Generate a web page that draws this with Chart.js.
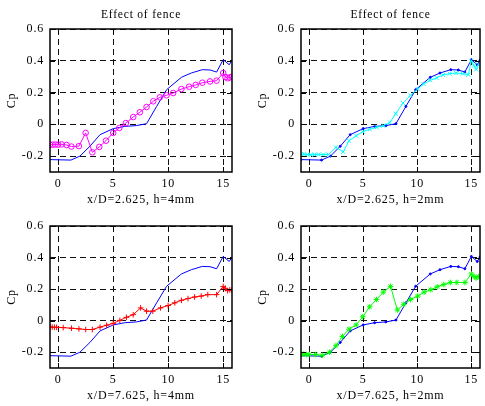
<!DOCTYPE html>
<html>
<head>
<meta charset="utf-8">
<script src="https://cdn.jsdelivr.net/npm/chart.js@4"></script>
<style>
  html, body { margin: 0; padding: 0; background: #fff; }
  #wrap { position: relative; width: 485px; height: 406px; overflow: hidden; }
  #wrap canvas { position: absolute; }
</style>
</head>
<body>
<div id="wrap">
  <canvas id="tl" width="242" height="210" style="left:0;top:0"></canvas>
  <canvas id="tr" width="234" height="210" style="left:251px;top:0"></canvas>
  <canvas id="bl" width="242" height="203" style="left:0;top:203px"></canvas>
  <canvas id="br" width="234" height="203" style="left:251px;top:203px"></canvas>
</div>
<script>
// ─── data ────────────────────────────────────────────────────────────────
const X_TICKS = [0, 5, 10, 15];
const Y_TICKS = [-0.2, 0, 0.2, 0.4, 0.6];

// baseline (no fence), blue line in every panel
const BASE_X = [-0.75, 1.15, 1.97, 2.88, 3.8, 5.0, 6.06, 7.1, 8.03, 8.95, 9.85, 11.2, 12.1, 13.1, 13.8, 14.4, 15.0, 15.55, 15.8];
const BASE_Y = [-0.222, -0.225, -0.2, -0.138, -0.065, -0.027, -0.013, -0.008, 0.004, 0.113, 0.218, 0.296, 0.323, 0.344, 0.342, 0.329, 0.407, 0.375, 0.403];

// x/D=2.625, h=4mm
const MAG_X = [-0.75, -0.5, -0.25, 0, 0.3, 0.76, 1.2, 1.88, 2.49, 3.1, 3.73, 4.34, 5.0, 5.55, 6.15, 6.82, 7.42, 8.03, 8.64, 9.24, 9.85, 10.45, 11.2, 11.9, 12.5, 13.1, 13.8, 14.4, 15.0, 15.2, 15.4, 15.6, 15.8];
const MAG_Y = [-0.128, -0.128, -0.127, -0.128, -0.126, -0.13, -0.14, -0.137, -0.054, -0.176, -0.142, -0.103, -0.054, -0.023, 0.008, 0.046, 0.076, 0.109, 0.145, 0.17, 0.183, 0.197, 0.222, 0.237, 0.248, 0.262, 0.27, 0.275, 0.323, 0.298, 0.29, 0.295, 0.3];

// x/D=2.625, h=2mm
const CYA_X = [-0.75, -0.45, -0.15, 0.15, 0.5, 0.9, 1.3, 1.8, 2.48, 3.15, 3.69, 4.35, 4.96, 5.6, 6.26, 6.86, 7.47, 8.01, 8.68, 9.37, 10.04, 10.58, 11.19, 11.79, 12.39, 13.0, 13.6, 14.2, 14.72, 15.0, 15.25, 15.45, 15.65];
const CYA_Y = [-0.19, -0.188, -0.19, -0.192, -0.19, -0.19, -0.19, -0.19, -0.145, -0.173, -0.103, -0.072, -0.046, -0.031, -0.019, -0.009, 0.012, 0.067, 0.134, 0.183, 0.222, 0.254, 0.277, 0.292, 0.311, 0.319, 0.323, 0.319, 0.312, 0.40, 0.37, 0.345, 0.375];

// x/D=7.625, h=4mm
const RED_X = [-0.75, -0.55, -0.35, -0.15, 0.45, 1.2, 1.88, 2.5, 3.1, 3.8, 4.4, 5.0, 5.6, 6.2, 6.82, 7.49, 8.03, 8.6, 9.3, 9.99, 10.6, 11.2, 11.8, 12.4, 13.0, 13.6, 14.4, 15.0, 15.2, 15.4, 15.6, 15.8];
const RED_Y = [-0.041, -0.041, -0.042, -0.042, -0.044, -0.048, -0.052, -0.056, -0.056, -0.041, -0.029, -0.017, 0.002, 0.021, 0.038, 0.081, 0.06, 0.06, 0.081, 0.096, 0.113, 0.129, 0.14, 0.15, 0.156, 0.165, 0.165, 0.217, 0.205, 0.19, 0.195, 0.192];

// x/D=7.625, h=2mm
const GRN_X = [-0.75, -0.5, -0.25, 0, 0.6, 1.2, 1.88, 2.48, 3.08, 3.69, 4.35, 4.96, 5.6, 6.23, 6.86, 7.53, 8.16, 8.74, 9.37, 10.04, 10.64, 11.25, 11.85, 12.45, 13.06, 13.66, 14.4, 15.0, 15.25, 15.45, 15.65];
const GRN_Y = [-0.214, -0.212, -0.215, -0.214, -0.214, -0.22, -0.2, -0.158, -0.1, -0.054, -0.027, 0.025, 0.088, 0.134, 0.181, 0.217, 0.067, 0.104, 0.134, 0.156, 0.181, 0.196, 0.215, 0.229, 0.242, 0.242, 0.242, 0.296, 0.28, 0.27, 0.28];

const TITLE = 'Effect of fence';

// ─── setup ───────────────────────────────────────────────────────────────
Chart.defaults.font.family = "'Liberation Serif', 'Times New Roman', serif";
Chart.defaults.font.size   = 11;
Chart.defaults.color       = '#000';

const pts = (xs, ys) => xs.map((x, i) => ({ x, y: ys[i] }));

// MATLAB-like box with inward ticks on all four sides
const framePlugin = {
  id: 'frame',
  beforeDraw(chart) {
    // the original print has loose, spaced-out lettering
    chart.ctx.letterSpacing = '0.8px';
  },
  afterDraw(chart) {
    const { ctx, chartArea: a, scales: { x, y } } = chart;
    ctx.save();
    ctx.strokeStyle = '#000';
    ctx.lineWidth = 1;
    ctx.beginPath();
    X_TICKS.forEach(v => {
      const px = Math.round(x.getPixelForValue(v)) + 0.5;
      ctx.moveTo(px, a.bottom); ctx.lineTo(px, a.bottom - 5);
      ctx.moveTo(px, a.top);    ctx.lineTo(px, a.top + 5);
    });
    Y_TICKS.forEach(v => {
      const py = Math.round(y.getPixelForValue(v)) + 0.5;
      ctx.moveTo(a.left, py);  ctx.lineTo(a.left + 5, py);
      ctx.moveTo(a.right, py); ctx.lineTo(a.right - 5, py);
    });
    ctx.stroke();
    ctx.lineWidth = 1.5;
    ctx.strokeRect(a.left, a.top, a.right - a.left, a.bottom - a.top);
    ctx.restore();
  },
};

function makePanel(id, opts) {
  const ctx = document.getElementById(id).getContext('2d');
  const scales = {
    x: {
      type: 'linear',
      min: -0.75, max: 15.8,
      afterBuildTicks: s => { s.ticks = X_TICKS.map(v => ({ value: v })); },
      afterFit: s => { s.height = 38; },
      grid: { color: '#111', lineWidth: 1, drawTicks: false },
      border: { display: false, dash: [6, 4] },
      ticks: { padding: 5, font: { size: 12 }, color: '#000', maxRotation: 0 },
      title: { display: true, text: opts.xlabel, font: { size: 12 }, color: '#000', padding: { top: 0, bottom: 3 } },
    },
    y: {
      min: -0.3, max: 0.6,
      afterBuildTicks: s => { s.ticks = Y_TICKS.map(v => ({ value: v })); },
      afterFit: s => { s.width = 50; },
      grid: { color: '#111', lineWidth: 1, drawTicks: false },
      border: { display: false, dash: [6, 4] },
      ticks: {
        padding: 6, font: { size: 12 }, color: '#000',
        callback: v => (Math.abs(v) < 1e-9 ? '0' : Number(v).toFixed(1)),
      },
      title: { display: true, text: 'Cp', font: { size: 12 }, color: '#000', padding: { top: 5, bottom: 0 } },
    },
  };
  if (opts.title) {
    // title on a blank top axis so it centres over the plot box
    scales.top = {
      type: 'linear', position: 'top', axis: 'x',
      min: -0.75, max: 15.8,
      afterFit: s => { s.height = 29; },
      grid: { display: false, drawTicks: false },
      border: { display: false },
      ticks: { display: false },
      title: { display: true, text: opts.title, font: { size: 11.5 }, color: '#000', padding: { top: 8, bottom: 0 } },
    };
  }
  return new Chart(ctx, {
    type: 'line',
    data: {
      datasets: [
        {
          data: pts(opts.xs, opts.ys),
          borderColor: opts.color,
          backgroundColor: 'transparent',
          borderWidth: 1,
          pointStyle: opts.marker,
          pointRadius: 2.8,
          pointBorderColor: opts.color,
          pointBorderWidth: 1,
          tension: 0,
        },
        {
          data: pts(BASE_X, BASE_Y),
          borderColor: '#0000ff',
          backgroundColor: '#0000ff',
          borderWidth: 1,
          pointRadius: opts.basePts ? 1 : 0,
          tension: 0,
        },
      ],
    },
    options: {
      responsive: false,
      animation: false,
      layout: { padding: { top: opts.title ? 0 : 23, right: opts.right, left: 0, bottom: 0 } },
      plugins: {
        legend: { display: false },
        tooltip: { enabled: false },
      },
      scales,
    },
    plugins: [framePlugin],
  });
}

makePanel('tl', { xs: MAG_X, ys: MAG_Y, color: '#ff00ff', marker: 'circle', title: TITLE, xlabel: 'x/D=2.625, h=4mm', right: 10 });
makePanel('tr', { xs: CYA_X, ys: CYA_Y, color: '#00ffff', marker: 'crossRot', title: TITLE, xlabel: 'x/D=2.625, h=2mm', right: 3, basePts: true });
makePanel('bl', { xs: RED_X, ys: RED_Y, color: '#ff0000', marker: 'cross', xlabel: 'x/D=7.625, h=4mm', right: 10 });
makePanel('br', { xs: GRN_X, ys: GRN_Y, color: '#00ff00', marker: 'star', xlabel: 'x/D=7.625, h=2mm', right: 3, basePts: true });
</script>
</body>
</html>
